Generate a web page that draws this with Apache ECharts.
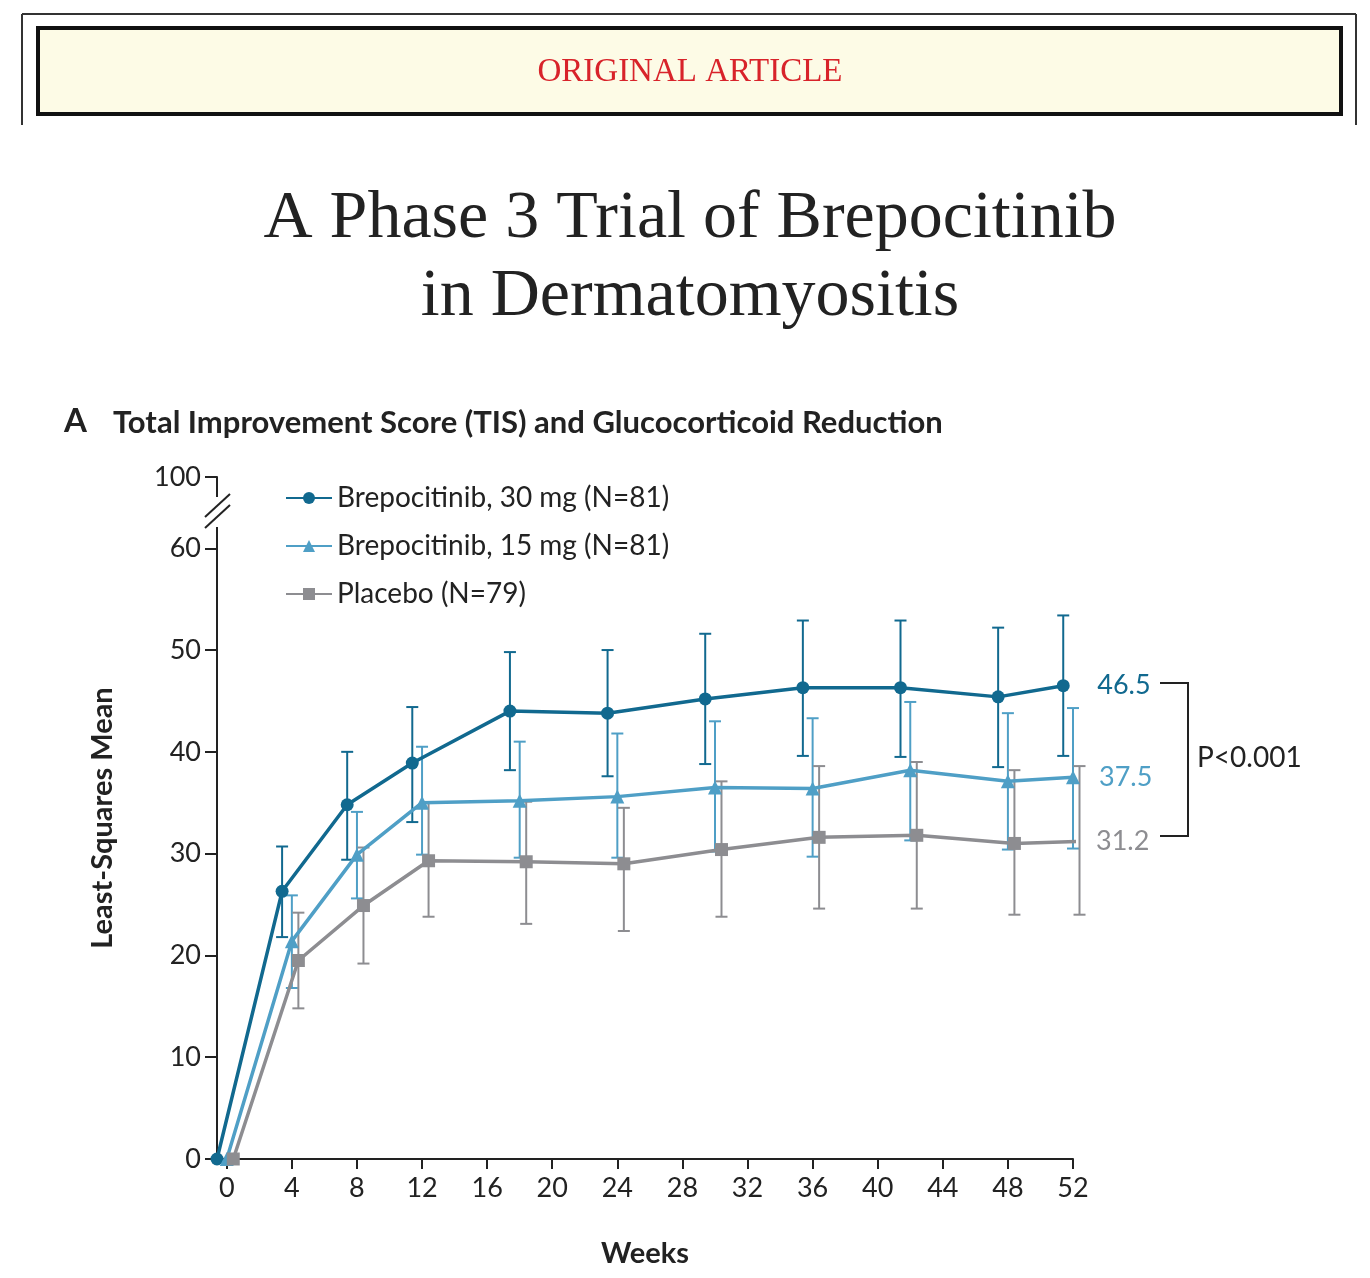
<!DOCTYPE html>
<html><head><meta charset="utf-8">
<script src="https://cdn.jsdelivr.net/npm/echarts@6/dist/echarts.min.js"></script>
<style>body{margin:0;background:#fff}#c{width:1370px;height:1278px}</style>
</head><body><div id="c"></div>
<script>
// weeks and plotted offsets (points are staggered around each week)
var weeks = [0, 4, 8, 12, 18, 24, 30, 36, 42, 48, 52];
var offsets = [-0.6, 0, 0.4];
var names = ['Brepocitinib, 30 mg (N=81)', 'Brepocitinib, 15 mg (N=81)', 'Placebo (N=79)'];
var colors = ['#11698f', '#4f9fc6', '#8d8d91'];
var symbols = ['circle', 'triangle', 'rect'];
var mean30 = [0, 26.3, 34.8, 38.9, 44.0, 43.8, 45.2, 46.3, 46.3, 45.4, 46.5];
var hi30 = [0, 30.7, 40.0, 44.4, 49.8, 50.0, 51.6, 52.9, 52.9, 52.2, 53.4];
var lo30 = [0, 21.8, 29.4, 33.1, 38.2, 37.6, 38.8, 39.6, 39.5, 38.5, 39.6];
var mean15 = [0, 21.4, 29.9, 35.0, 35.2, 35.6, 36.5, 36.4, 38.2, 37.1, 37.5];
var hi15 = [0, 25.9, 34.1, 40.5, 41.0, 41.8, 43.0, 43.3, 44.9, 43.8, 44.3];
var lo15 = [0, 16.8, 25.6, 29.9, 29.6, 29.6, 30.2, 29.7, 31.3, 30.4, 30.5];
var meanP = [0, 19.5, 24.9, 29.3, 29.2, 29.0, 30.4, 31.6, 31.8, 31.0, 31.2];
var hiP = [0, 24.2, 30.6, 35.0, 35.1, 34.5, 37.1, 38.6, 39.0, 38.2, 38.6];
var loP = [0, 14.8, 19.2, 23.8, 23.1, 22.4, 23.8, 24.6, 24.6, 24.0, 24.0];
var xTicks = [0, 4, 8, 12, 16, 20, 24, 28, 32, 36, 40, 44, 48, 52];
var yTicks = [0, 10, 20, 30, 40, 50, 60, 67]; // 67 stands for the broken-axis 100
var endLabels = ['46.5', '37.5', '31.2'];

var means = [mean30, mean15, meanP], his = [hi30, hi15, hiP], los = [lo30, lo15, loP];
var font = 'Lato, "Open Sans", sans-serif';
var series = [];
means.forEach(function (m, s) {
  var errData = weeks.map(function (w, i) { return [w + offsets[s], los[s][i], his[s][i]]; }).slice(1);
  series.push({
    type: 'custom', name: names[s] + 'err', silent: true, z: 2,
    renderItem: function (params, api) {
      var top = api.coord([api.value(0), api.value(2)]);
      var bot = api.coord([api.value(0), api.value(1)]);
      var st = { stroke: colors[s], lineWidth: 2 };
      return { type: 'group', children: [
        { type: 'line', shape: { x1: top[0], y1: top[1], x2: bot[0], y2: bot[1] }, style: st },
        { type: 'line', shape: { x1: top[0] - 6, y1: top[1], x2: top[0] + 6, y2: top[1] }, style: st },
        { type: 'line', shape: { x1: bot[0] - 6, y1: bot[1], x2: bot[0] + 6, y2: bot[1] }, style: st }
      ]};
    },
    data: errData
  });
  series.push({
    type: 'line', name: names[s], z: 5,
    data: weeks.map(function (w, i) { return [w + offsets[s], m[i]]; }),
    symbol: symbols[s], symbolSize: s === 1 ? 14 : 13,
    lineStyle: { color: colors[s], width: 3.5 }, itemStyle: { color: colors[s] },
    endLabel: { show: true, formatter: endLabels[s], color: colors[s], fontFamily: font,
      fontSize: 27, distance: s === 0 ? 34 : (s === 1 ? 26 : 20) }
  });
});

var chart = echarts.init(document.getElementById('c'));
chart.setOption({
  animation: false,
  backgroundColor: '#fff',
  grid: { left: 217, right: 297, top: 477, bottom: 119 },
  legend: {
    orient: 'vertical', left: 280, top: 479, itemGap: 20, itemWidth: 46, itemHeight: 15,
    data: names, textStyle: { fontFamily: font, fontSize: 28, color: '#222' }
  },
  xAxis: {
    type: 'value', min: -0.6, max: 52, name: 'Weeks', nameLocation: 'middle', nameGap: 80,
    nameTextStyle: { fontFamily: font, fontWeight: 'bold', fontSize: 29, color: '#222' },
    axisLine: { onZero: false, lineStyle: { color: '#222', width: 2 } },
    axisTick: { customValues: xTicks, length: 10, lineStyle: { color: '#222', width: 2 } },
    axisLabel: { customValues: xTicks, fontFamily: font, fontSize: 27, color: '#222', margin: 16 },
    splitLine: { show: false }
  },
  yAxis: {
    type: 'value', min: 0, max: 67, name: 'Least-Squares Mean', nameLocation: 'middle', nameGap: 100,
    nameTextStyle: { fontFamily: font, fontWeight: 'bold', fontSize: 29, color: '#222' },
    axisLine: { show: true, onZero: false, lineStyle: { color: '#222', width: 2 } },
    axisTick: { show: true, customValues: yTicks, length: 12, inside: false, lineStyle: { color: '#222', width: 2 } },
    axisLabel: { customValues: yTicks, fontFamily: font, fontSize: 27, color: '#222', margin: 16,
      formatter: function (v) { return v === 67 ? '100' : String(v); } },
    splitLine: { show: false }
  },
  graphic: [
    { type: 'line', shape: { x1: 22, y1: 14, x2: 1356, y2: 14 }, style: { stroke: '#333', lineWidth: 2 } },
    { type: 'line', shape: { x1: 22, y1: 14, x2: 22, y2: 125 }, style: { stroke: '#333', lineWidth: 2 } },
    { type: 'line', shape: { x1: 1356, y1: 14, x2: 1356, y2: 125 }, style: { stroke: '#333', lineWidth: 2 } },
    { type: 'rect', shape: { x: 38, y: 28, width: 1303, height: 86 }, style: { fill: '#fdfbe6', stroke: '#111', lineWidth: 4 } },
    { type: 'text', x: 690, y: 72, style: { text: 'ORIGINAL ARTICLE', fill: '#d8232a', textAlign: 'center',
      textVerticalAlign: 'middle', font: '33px "Liberation Serif", serif', letterSpacing: 4 } },
    { type: 'text', x: 690, y: 180, style: { text: 'A Phase 3 Trial of Brepocitinib\nin Dermatomyositis',
      fill: '#222', font: '68px "Liberation Serif", serif', textAlign: 'center', lineHeight: 78 } },
    { type: 'text', left: 64, top: 405, style: { text: 'A', fill: '#222', font: 'bold 33px ' + font } },
    { type: 'text', left: 113, top: 407, style: { text: 'Total Improvement Score (TIS) and Glucocorticoid Reduction',
      fill: '#222', font: 'bold 31px ' + font } },
    // axis break
    { type: 'rect', shape: { x: 210, y: 497, width: 16, height: 30 }, style: { fill: '#fff' }, z: 100 },
    { type: 'line', shape: { x1: 205, y1: 517, x2: 230, y2: 494 }, style: { stroke: '#222', lineWidth: 2 }, z: 101 },
    { type: 'line', shape: { x1: 205, y1: 528, x2: 230, y2: 505 }, style: { stroke: '#222', lineWidth: 2 }, z: 101 },
    // p-value bracket
    { type: 'polyline', shape: { points: [[1160, 683], [1188, 683], [1188, 836], [1160, 836]] },
      style: { stroke: '#222', lineWidth: 2, fill: null } },
    { type: 'text', left: 1197, top: 744, style: { text: 'P<0.001', fill: '#222', font: '28px ' + font } }
  ],
  series: series
});
</script></body></html>
